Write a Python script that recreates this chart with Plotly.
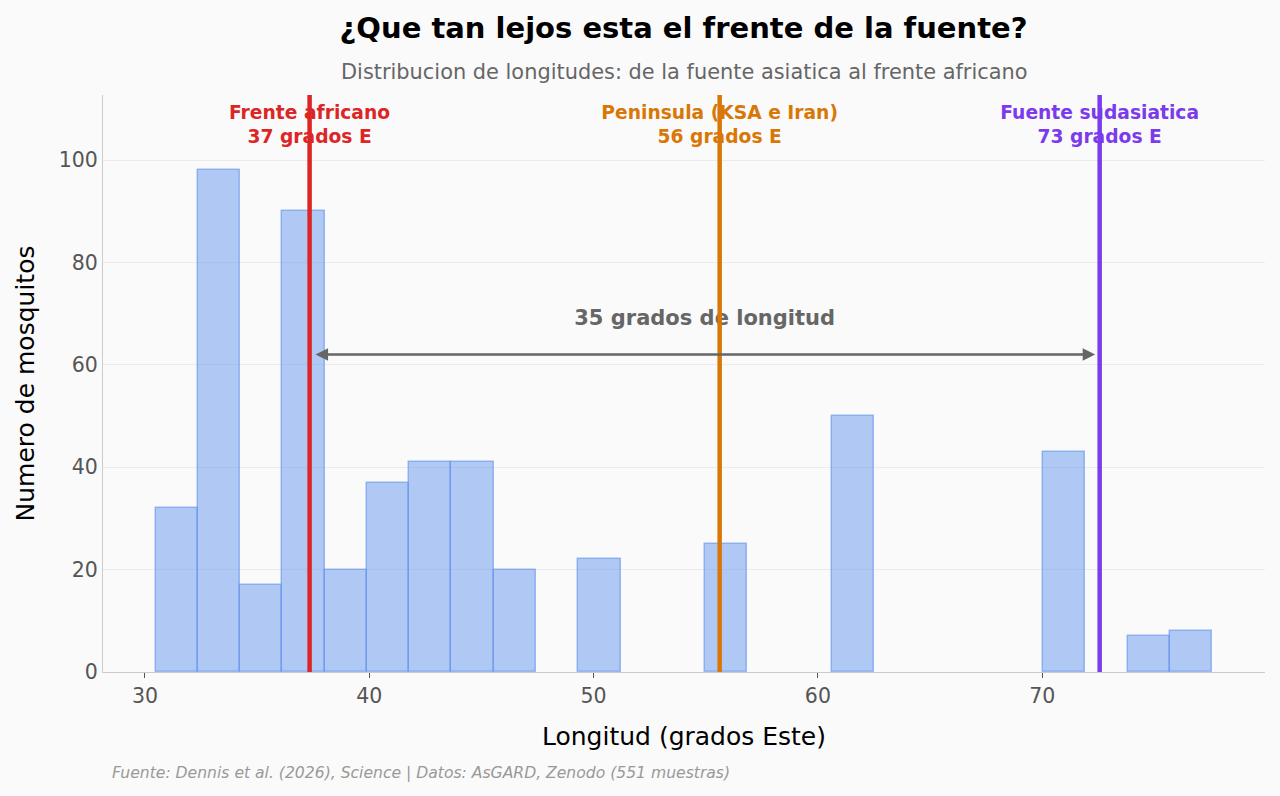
import plotly.graph_objects as go

# Histogram data (bin edges derived from start + width)
bin_start = 30.48
bin_width = 1.8836
counts = [32, 98, 17, 90, 20, 37, 41, 41, 20, 0, 22, 0, 0, 25, 0, 0, 50, 0, 0, 0, 0, 43, 0, 7, 8]

ref_names = ["Frente africano", "Peninsula (KSA e Iran)", "Fuente sudasiatica"]
ref_lons = [37.34, 55.62, 72.56]
ref_labels = ["37 grados E", "56 grados E", "73 grados E"]
ref_colors = ["#DC2626", "#D97706", "#7C3AED"]

distance_label = "35 grados de longitud"
arrow_y = 62
distance_text_y = 68.9
top_label_y = 106.6

centers = [bin_start + bin_width * (i + 0.5) for i in range(len(counts))]
bar_heights = [c if c > 0 else None for c in counts]

FONT = "DejaVu Sans"

fig = go.Figure()
fig.add_trace(go.Bar(
    x=centers, y=bar_heights, width=[bin_width] * len(counts),
    marker=dict(color="rgba(100,149,237,0.5)",
                line=dict(color="rgba(100,149,237,0.6)", width=1.5)),
    showlegend=False, hoverinfo="x+y",
))

# top labels as text traces (below the vertical lines)
for name, lon, lab, col in zip(ref_names, ref_lons, ref_labels, ref_colors):
    fig.add_trace(go.Scatter(
        x=[lon], y=[top_label_y], mode="text",
        text=[f"<b>{name}<br>{lab}</b>"], textposition="middle center",
        textfont=dict(family=FONT, size=18.7, color=col),
        showlegend=False, hoverinfo="skip",
    ))

fig.add_trace(go.Scatter(
    x=[(ref_lons[0] + ref_lons[2]) / 2], y=[distance_text_y], mode="text",
    text=[f"<b>{distance_label}</b>"], textposition="middle center",
    textfont=dict(family=FONT, size=21, color="#666666"),
    showlegend=False, hoverinfo="skip",
))

for lon, col in zip(ref_lons, ref_colors):
    fig.add_shape(type="line", x0=lon, x1=lon, y0=0, y1=1, xref="x", yref="paper",
                  line=dict(color=col, width=4.5), layer="above")

# double-headed arrow
fig.add_annotation(
    x=ref_lons[2] - 0.2, y=arrow_y, ax=ref_lons[0] + 0.2, ay=arrow_y,
    xref="x", yref="y", axref="x", ayref="y",
    text="", showarrow=True, arrowhead=2, startarrowhead=2, arrowside="end+start",
    arrowwidth=2.5, arrowsize=1, startarrowsize=1, arrowcolor="#666666",
)

fig.update_layout(
    width=1280, height=796,
    paper_bgcolor="#fafafa", plot_bgcolor="#fafafa",
    margin=dict(l=103, r=15, t=95, b=124),
    font=dict(family=FONT, color="#555555"),
    title=dict(text="<b>¿Que tan lejos esta el frente de la fuente?</b>",
               x=0.534, xanchor="center", y=0.965, yanchor="middle", yref="container",
               font=dict(family=FONT, size=29, color="#000000")),
    bargap=0,
    xaxis=dict(range=[28.13, 79.93], tickvals=[30, 40, 50, 60, 70],
               showgrid=False, zeroline=False, showline=True, linecolor="#cccccc", linewidth=1,
               ticks="outside", ticklen=5, tickcolor="#555555",
               tickfont=dict(family=FONT, size=20.5, color="#555555"),
               title=dict(text="Longitud (grados Este)", font=dict(family=FONT, size=25, color="#000000"),
                          standoff=20)),
    yaxis=dict(range=[0, 112.7], tickvals=[0, 20, 40, 60, 80, 100],
               showgrid=True, gridcolor="#ebebeb", gridwidth=1, zeroline=False,
               showline=True, linecolor="#cccccc", linewidth=1, ticks="",
               tickfont=dict(family=FONT, size=20.5, color="#555555"),
               title=dict(text="Numero de mosquitos", font=dict(family=FONT, size=25, color="#000000"),
                          standoff=17)),
)

fig.add_annotation(
    text="Distribucion de longitudes: de la fuente asiatica al frente africano",
    xref="paper", yref="paper", x=0.5, y=1.04, xanchor="center", yanchor="middle",
    showarrow=False, font=dict(family=FONT, size=20.9, color="#666666"),
)
fig.add_annotation(
    text="<i>Fuente: Dennis et al. (2026), Science | Datos: AsGARD, Zenodo (551 muestras)</i>",
    xref="paper", yref="paper", x=0.006, y=-0.175, xanchor="left", yanchor="middle",
    showarrow=False, font=dict(family=FONT, size=15.6, color="#999999"),
)

fig.write_html("out.html")
